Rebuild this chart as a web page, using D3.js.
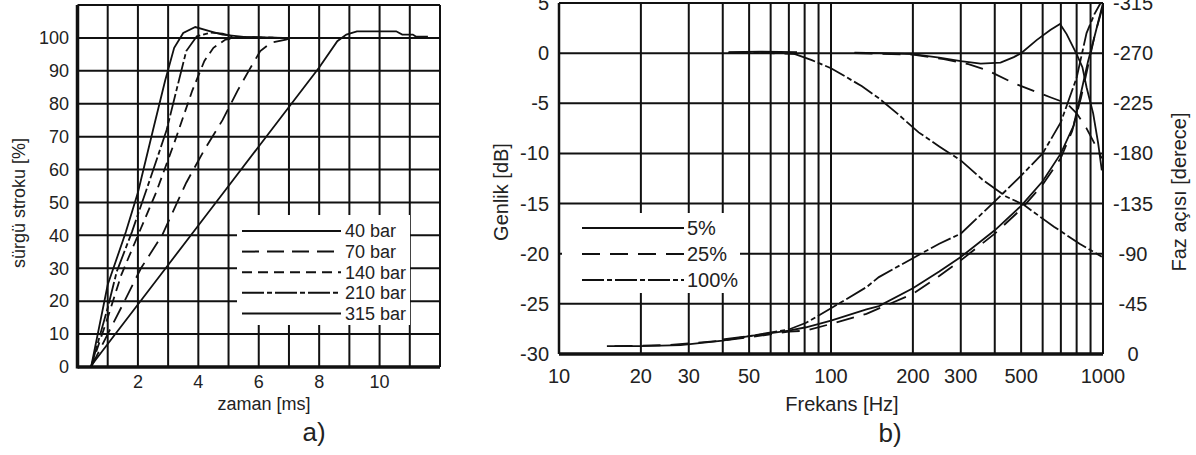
<!DOCTYPE html>
<html>
<head>
<meta charset="utf-8">
<script src="https://d3js.org/d3.v7.min.js"></script>
<style>
body { margin: 0; background: #fff; }
svg text { font-family: "Liberation Sans", Arial, sans-serif; fill: #222; }
</style>
</head>
<body>
<script>
// ---- a) spool stroke vs time, one curve per pressure ----
const timeTicks = [2, 4, 6, 8, 10];
const strokeTicks = [0, 10, 20, 30, 40, 50, 60, 70, 80, 90, 100];
const pressureLabels = ["40 bar", "70 bar", "140 bar", "210 bar", "315 bar"];

const stroke40 = [[0.42,0],[1,7],[2,19],[3,31],[4,43],[5,55],[6,67],[7,79],[8,91],[8.6,99],[8.9,101],[9.25,102],[10.55,102],[10.75,101],[11.1,101],[11.2,100.4],[11.6,100.4]];
const stroke70 = [[0.45,0],[1,10],[1.5,19],[2.1,30],[2.8,40],[3.6,56],[4.2,66],[4.8,75],[5.3,84],[5.7,90.5],[6.05,96],[6.4,98.5],[6.9,99.5],[7,99.8]];
const stroke140 = [[0.45,0],[1,15],[1.45,28],[2,40],[2.6,53],[3.2,68],[3.8,84],[4.2,93],[4.5,97],[4.9,99.5],[5.5,100.2],[6.8,100]];
const stroke210 = [[0.45,0],[1,18],[1.3,29],[1.8,41],[2.4,57],[2.95,72],[3.3,85],[3.6,96],[3.95,100.5],[4.4,101.6],[4.8,101.3],[5.2,100.3],[6.8,100]];
const stroke315 = [[0.45,0],[1,25],[1.6,41],[2,53],[2.5,72],[2.9,87],[3.2,97],[3.5,101.5],[3.9,103.3],[4.4,102],[4.8,101],[5.5,100.3],[6.8,100]];
const strokeSeries = [stroke40, stroke70, stroke140, stroke210, stroke315];

// ---- b) frequency response, gain [dB] and phase [deg] per opening ----
const freqTicks = [10, 20, 30, 50, 100, 200, 300, 500, 1000];
const gainTicks = [5, 0, -5, -10, -15, -20, -25, -30];
const phaseTicks = [-315, -270, -225, -180, -135, -90, -45, 0];
const openingLabels = ["5%", "25%", "100%"];

const gain5 = [[42,0.1],[55,0.15],[75,0.1],null,[122,0.05],[150,0],[200,-0.1],[250,-0.45],[300,-0.8],[355,-1.05],[420,-0.95],[470,-0.4],[500,0],[570,1.3],[640,2.3],[695,2.9],[735,1.9],[800,-0.1],[840,-1.4],[870,-3.4],[920,-6],[960,-9],[990,-11.7]];
const gain25 = [[42,0],[60,0],[75,-0.1],null,[122,0],[200,-0.15],[260,-0.6],[320,-1.1],[375,-1.7],[470,-3],[560,-3.8],[640,-4.4],[735,-5],[800,-6],[870,-7.5],[930,-9],[990,-10.5]];
const gain100 = [[42,0.05],[60,0.1],[72,0],[85,-0.7],[100,-1.5],[130,-3.3],[150,-4.5],[175,-6],[210,-7.9],[250,-9.3],[300,-10.7],[360,-12.6],[440,-14.3],[510,-15.1],[600,-16.5],[660,-17.3],[820,-19],[990,-20.3]];
const phase5 = [[15,-7],[20,-7],[28,-8],[40,-12],[50,-16],[70,-21],[81,-24],[100,-30],[135,-40],[150,-43],[200,-59],[250,-74],[300,-87],[400,-111],[500,-133],[600,-155],[700,-180],[780,-205],[840,-240],[880,-262],[920,-280],[960,-298],[1000,-315]];
const phase25 = [[16,-7],[25,-8],[40,-12],[50,-15],[70,-20],[81,-21],[100,-27],[135,-36],[200,-54],[250,-70],[300,-84],[400,-108],[500,-130],[600,-152],[700,-176],[770,-200],[830,-230],[880,-258],[930,-285],[980,-305],[1000,-312]];
const phase100 = [[40,-13],[50,-16],[70,-22],[81,-28],[100,-41],[135,-60],[150,-69],[200,-86],[250,-99],[300,-108],[400,-137],[500,-160],[600,-180],[700,-208],[800,-248],[870,-288],[930,-305],[980,-315]];
const gainSeries = [gain5, gain25, gain100];
const phaseSeries = [phase5, phase25, phase100];

// line styles
const ink = "#111";
const dashA = [null, "17,8", "10,6", "22,3,5,3", null];
const dashB = [null, "18,10", "22,3,5,3"];

const svg = d3.select("body").append("svg")
  .attr("width", 1196).attr("height", 455);

// ===================== panel a) =====================
const xT = d3.scaleLinear().domain([0, 12]).range([77.5, 440]);
const yS = d3.scaleLinear().domain([0, 110]).range([367, 5]);

const gA = svg.append("g");

// grid
gA.append("g").selectAll("line").data(xT.ticks(12)).join("line")
  .attr("x1", d => xT(d)).attr("x2", d => xT(d))
  .attr("y1", yS(110)).attr("y2", yS(0))
  .attr("stroke", ink).attr("stroke-width", 2);
gA.append("g").selectAll("line").data(yS.ticks(11)).join("line")
  .attr("x1", xT(0)).attr("x2", xT(12))
  .attr("y1", d => yS(d)).attr("y2", d => yS(d))
  .attr("stroke", ink).attr("stroke-width", 2);

// heavy axes
gA.append("line").attr("x1", xT(0)).attr("x2", xT(0)).attr("y1", yS(110)).attr("y2", yS(0) + 1.5)
  .attr("stroke", ink).attr("stroke-width", 3.5);
gA.append("line").attr("x1", xT(0)).attr("x2", xT(12)).attr("y1", yS(0)).attr("y2", yS(0))
  .attr("stroke", ink).attr("stroke-width", 3.5);

// legend background covers the grid
gA.append("rect").attr("x", 237).attr("y", 215).attr("width", 173).attr("height", 110).attr("fill", "#fff");

// curves
const lineA = d3.line().x(d => xT(d[0])).y(d => yS(d[1]));
gA.append("g").selectAll("path").data(strokeSeries).join("path")
  .attr("d", lineA)
  .attr("fill", "none").attr("stroke", ink).attr("stroke-width", 1.8)
  .attr("stroke-dasharray", (d, i) => dashA[i]);

// tick labels
gA.append("g").selectAll("text").data(strokeTicks).join("text")
  .attr("x", 69).attr("y", d => yS(d)).attr("dy", "0.35em")
  .attr("text-anchor", "end").attr("font-size", 18).text(d => d);
gA.append("g").selectAll("text").data(timeTicks).join("text")
  .attr("x", d => xT(d)).attr("y", 388)
  .attr("text-anchor", "middle").attr("font-size", 18).text(d => d);

// titles
gA.append("text").attr("transform", "translate(25,203) rotate(-90)")
  .attr("text-anchor", "middle").attr("font-size", 18).text("sürgü stroku [%]");
gA.append("text").attr("x", 264).attr("y", 410)
  .attr("text-anchor", "middle").attr("font-size", 18).text("zaman [ms]");
gA.append("text").attr("x", 314).attr("y", 441)
  .attr("text-anchor", "middle").attr("font-size", 26).text("a)");

// legend
const legA = gA.append("g").selectAll("g").data(pressureLabels).join("g")
  .attr("transform", (d, i) => "translate(0," + (231 + i * 20.6) + ")");
legA.append("line").attr("x1", 242).attr("x2", 341).attr("y1", 0).attr("y2", 0)
  .attr("stroke", ink).attr("stroke-width", 2)
  .attr("stroke-dasharray", (d, i) => dashA[i]);
legA.append("text").attr("x", 345).attr("dy", "0.35em").attr("font-size", 18).text(d => d);

// ===================== panel b) =====================
const xF = d3.scaleLog().domain([10, 1000]).range([559, 1103]);
const yG = d3.scaleLinear().domain([-30, 5]).range([354, 3]);
const yP = d3.scaleLinear().domain([0, -315]).range([354, 3]);

const gB = svg.append("g");

// grid
gB.append("g").selectAll("line").data(xF.ticks()).join("line")
  .attr("x1", d => xF(d)).attr("x2", d => xF(d))
  .attr("y1", yG(5)).attr("y2", yG(-30))
  .attr("stroke", ink).attr("stroke-width", 2);
gB.append("g").selectAll("line").data(gainTicks).join("line")
  .attr("x1", xF(10)).attr("x2", xF(1000))
  .attr("y1", d => yG(d)).attr("y2", d => yG(d))
  .attr("stroke", ink).attr("stroke-width", 2);

gB.append("line").attr("x1", xF(10)).attr("x2", xF(1000)).attr("y1", yG(-30)).attr("y2", yG(-30))
  .attr("stroke", ink).attr("stroke-width", 3.5);
gB.append("line").attr("x1", xF(10)).attr("x2", xF(10)).attr("y1", yG(5)).attr("y2", yG(-30))
  .attr("stroke", ink).attr("stroke-width", 2.5);

// legend background
gB.append("rect").attr("x", 562).attr("y", 213).attr("width", 178).attr("height", 80).attr("fill", "#fff");

// curves
const lineG = d3.line().defined(d => d).x(d => xF(d[0])).y(d => yG(d[1]));
const lineP = d3.line().x(d => xF(d[0])).y(d => yP(d[1]));
gB.append("g").selectAll("path").data(gainSeries).join("path")
  .attr("d", lineG)
  .attr("fill", "none").attr("stroke", ink).attr("stroke-width", 1.8)
  .attr("stroke-dasharray", (d, i) => dashB[i]);
gB.append("g").selectAll("path").data(phaseSeries).join("path")
  .attr("d", lineP)
  .attr("fill", "none").attr("stroke", ink).attr("stroke-width", 1.8)
  .attr("stroke-dasharray", (d, i) => dashB[i]);

// tick labels
gB.append("g").selectAll("text").data(gainTicks).join("text")
  .attr("x", 549).attr("y", d => yG(d)).attr("dy", "0.35em")
  .attr("text-anchor", "end").attr("font-size", 20).text(d => d);
gB.append("g").selectAll("text").data(freqTicks).join("text")
  .attr("x", d => xF(d)).attr("y", 383)
  .attr("text-anchor", "middle").attr("font-size", 20).text(d => d);
gB.append("g").selectAll("text").data(phaseTicks).join("text")
  .attr("x", 1133).attr("y", d => yP(d)).attr("dy", "0.35em")
  .attr("text-anchor", "middle").attr("font-size", 20).text(d => d);

// titles
gB.append("text").attr("transform", "translate(508,192) rotate(-90)")
  .attr("text-anchor", "middle").attr("font-size", 20).text("Genlik [dB]");
gB.append("text").attr("transform", "translate(1186,192) rotate(-90)")
  .attr("text-anchor", "middle").attr("font-size", 20).text("Faz açısı [derece]");
gB.append("text").attr("x", 842).attr("y", 411)
  .attr("text-anchor", "middle").attr("font-size", 20).text("Frekans [Hz]");
gB.append("text").attr("x", 890).attr("y", 442)
  .attr("text-anchor", "middle").attr("font-size", 26).text("b)");

// legend
const legB = gB.append("g").selectAll("g").data(openingLabels).join("g")
  .attr("transform", (d, i) => "translate(0," + (228 + i * 26) + ")");
legB.append("line").attr("x1", 582).attr("x2", 684).attr("y1", 0).attr("y2", 0)
  .attr("stroke", ink).attr("stroke-width", 2)
  .attr("stroke-dasharray", (d, i) => dashB[i]);
legB.append("text").attr("x", 687).attr("dy", "0.35em").attr("font-size", 20).text(d => d);
</script>
</body>
</html>
